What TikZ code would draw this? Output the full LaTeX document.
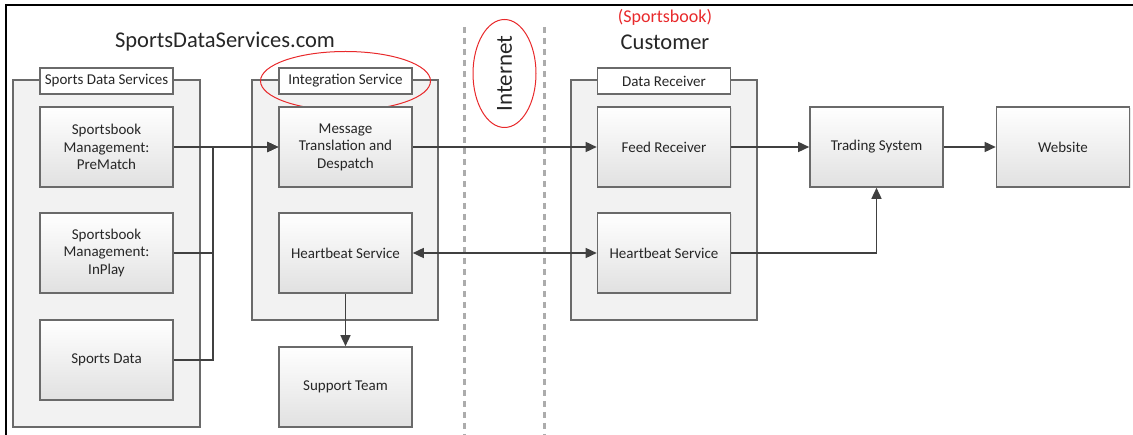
\documentclass[tikz,border=0pt]{standalone}
\usepackage{fontspec}
\setmainfont{Carlito}
\usepackage{tikz}
\usetikzlibrary{arrows.meta,shadows,positioning}

\definecolor{boxline}{HTML}{6A6A6A}
\definecolor{conline}{HTML}{404040}
\definecolor{txt}{HTML}{262626}
\definecolor{grpfill}{HTML}{F2F2F2}
\definecolor{mark}{HTML}{E8292B}

\begin{document}
\begin{tikzpicture}[x=1pt, y=-1pt, font=\fontsize{15}{17.5}\selectfont, text=txt,
  block/.style={rectangle, draw=boxline, line width=1.6pt, top color=white, bottom color=grpfill!85!gray, minimum width=133pt, minimum height=80pt, align=center, inner sep=2pt, drop shadow={shadow xshift=1pt, shadow yshift=-1pt, fill=gray!35}},
  tag/.style={rectangle, draw=boxline, line width=1.6pt, fill=white, minimum width=133pt, minimum height=26pt, inner sep=1pt},
  group/.style={draw=boxline, line width=1.6pt, fill=grpfill, drop shadow={shadow xshift=1pt, shadow yshift=-1pt, fill=gray!35}},
  conn/.style={draw=conline, line width=1.5pt, -{Triangle[length=11pt,width=10pt]}},
  lane/.style={draw=gray!65, line width=2.2pt, dash pattern=on 6pt off 5pt},
  ring/.style={draw=mark, line width=1pt}]
  \useasboundingbox (0,0) rectangle (1133,435);
  % screenshot frame
  \draw[line width=2.5pt] (1133,5) -- (6,5) -- (6,435);
  % internet lanes
  \draw[lane] (464.5,27) -- (464.5,435);
  \draw[lane] (544.5,27) -- (544.5,435);
  \node[rotate=90, font=\fontsize{23}{23}\selectfont] (inet) at (504.5,73.5) {Internet};
  \draw[ring] (inet.center) ellipse [x radius=31.5pt, y radius=54pt];
  % headings
  \node[font=\fontsize{22.5}{22.5}\selectfont] (sds) at (225,42) {SportsDataServices.com};
  \node[font=\fontsize{22.5}{22.5}\selectfont] (cust) at (665,42) {Customer};
  \node[font=\fontsize{18}{18}\selectfont, text=mark] (book) at (665,17) {(Sportsbook)};
  % groups
  \draw[group] (13,80) rectangle (200,427);
  \draw[group] (252,80) rectangle (438,320);
  \draw[group] (571,80) rectangle (757,320);
  \node[tag] (sdsTag) at (106.5,81) {Sports Data Services};
  \node[tag] (intTag) at (345.5,81) {Integration Service};
  \node[tag] (recTag) at (664,81) {Data Receiver};
  \draw[ring] (intTag.center) ellipse [x radius=85pt, y radius=29.5pt];
  % boxes
  \node[block] (pre) at (106.5,147) {Sportsbook\\Management:\\PreMatch};
  \node[block] (inp) at (106.5,253) {Sportsbook\\Management:\\InPlay};
  \node[block] (data) at (106.5,360) {Sports Data};
  \node[block] (msg) at (345.5,147) {Message\\Translation and\\Despatch};
  \node[block] (hbInt) at (345.5,253) {Heartbeat Service};
  \node[block] (supp) at (345.5,387) {Support Team};
  \node[block] (feed) at (664,147) {Feed Receiver};
  \node[block] (hbCust) at (664,253) {Heartbeat Service};
  \node[block] (trade) at (876.5,147) {Trading System};
  \node[block] (web) at (1063,147) {Website};
  % connectors
  \draw[conn] (pre.east) -- (msg.west);
  \draw[conn] (inp.east) -- ++(39,0) |- (msg.west);
  \draw[conn] (data.east) -- ++(39,0) |- (msg.west);
  \draw[conn] (msg.east) -- (feed.west);
  \draw[conn, {Triangle[length=11pt,width=10pt]}-{Triangle[length=11pt,width=10pt]}] (hbInt.east) -- (hbCust.west);
  \draw[conn] (hbInt.south) -- (supp.north);
  \draw[conn] (feed.east) -- (trade.west);
  \draw[conn] (trade.east) -- (web.west);
  \draw[conn] (hbCust.east) -| (trade.south);
\end{tikzpicture}
\end{document}
